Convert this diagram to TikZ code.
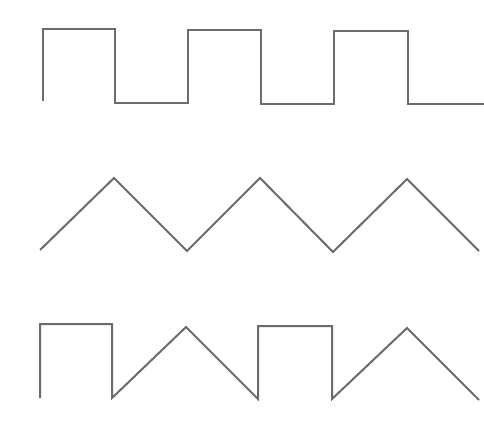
\documentclass[tikz,border=0pt]{standalone}
\usepackage{tikz}
\tikzset{
    wavediagram/.style={x=1pt, y=-1pt, line join=miter},
    wave/.style={draw=black!58, line width=2pt},
}
\begin{document}
\begin{tikzpicture}[wavediagram]
    \useasboundingbox (0,0) rectangle (484,423);
    % square wave
    \draw[wave] (43,101) -- (43,29) -- (115,29) -- (115,103) -- (188,103) -- (188,30)
        -- (261,30) -- (261,104) -- (334,104) -- (334,31) -- (408,31) -- (408,104) -- (484,104);
    % triangle wave
    \draw[wave] (40,250) -- (114,178) -- (187,251) -- (260,178) -- (333,252)
        -- (407,179) -- (479,251);
    % mixed wave
    \draw[wave] (40,398) -- (40,324) -- (112,324) -- (112,398) -- (186,327) -- (258,399)
        -- (258,326) -- (332,326) -- (332,399) -- (407,328) -- (479,400);
\end{tikzpicture}
\end{document}
